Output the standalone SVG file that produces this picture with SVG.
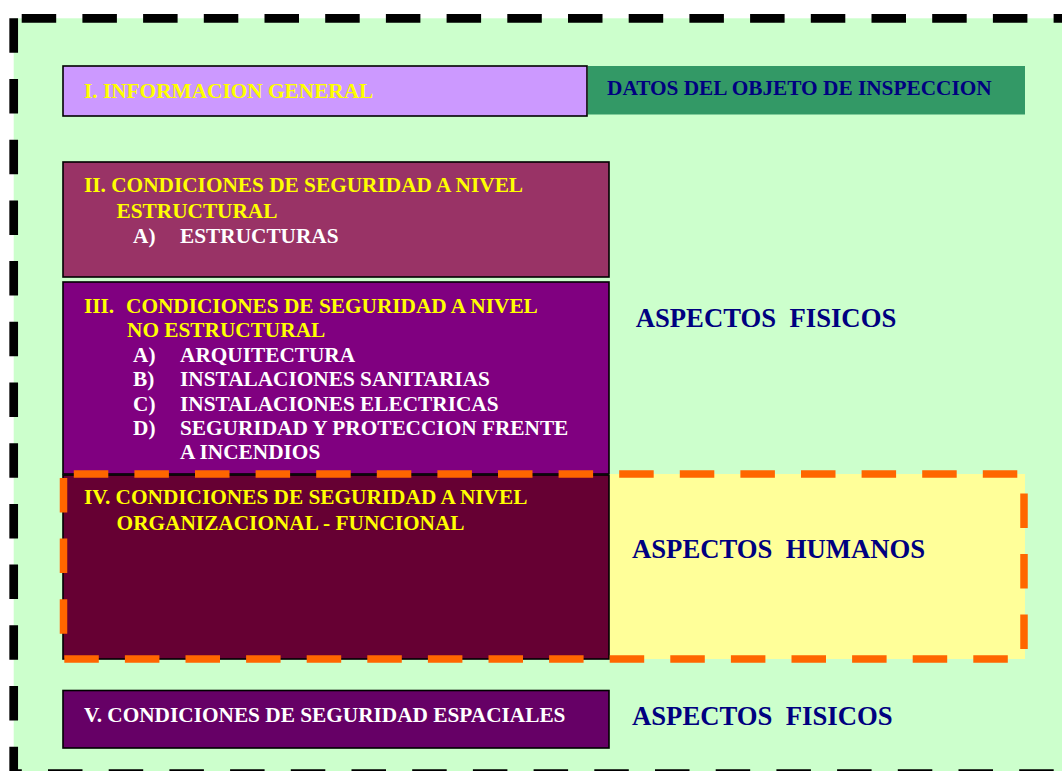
<svg xmlns="http://www.w3.org/2000/svg" width="1062" height="771" viewBox="0 0 1062 771">
<style>
text{font-family:"Liberation Serif","Times New Roman",serif;font-weight:bold;font-size:21.3px}
.y{fill:#FFFF00}
.w{fill:#FFFFFF}
.n{fill:#000080}
.big{font-size:26.7px}
.box{stroke:#000;stroke-width:1.6}
.frame{stroke:#000;stroke-width:8.7;stroke-dasharray:34.5 26.2;fill:none}
</style>
<rect x="0" y="0" width="1062" height="771" fill="#FFFFFF"/>
<g id="background">
<rect x="13.7" y="18.3" width="1060" height="760" fill="#CCFFCC"/>
<line class="frame" x1="13.7" y1="18.3" x2="13.7" y2="780"/>
<line class="frame" x1="13.7" y1="18.3" x2="1070" y2="18.3" stroke-dashoffset="52.7"/>
<line class="frame" x1="13.7" y1="773.7" x2="1070" y2="773.7" stroke-dashoffset="26.4"/>
</g>
<g id="node-info">
<rect class="box" x="63" y="66" width="524" height="50" fill="#CC99FF"/>
<text class="y" x="84" y="98">I. INFORMACION GENERAL</text>
</g>
<g id="node-datos">
<rect x="588" y="66" width="437" height="48.5" fill="#339966"/>
<text class="n" x="607" y="95">DATOS DEL OBJETO DE INSPECCION</text>
</g>
<g id="node-estructural">
<rect class="box" x="63" y="162" width="546" height="115" fill="#993366"/>
<text class="y" x="84" y="192">II. CONDICIONES DE SEGURIDAD A NIVEL</text>
<text class="y" x="116.5" y="217.5">ESTRUCTURAL</text>
<text class="w" x="133" y="242.5">A)</text>
<text class="w" x="180" y="242.5">ESTRUCTURAS</text>
</g>
<g id="node-noestructural">
<rect class="box" x="63" y="282" width="546" height="192" fill="#800080"/>
<text class="y" x="84" y="312.5">III.</text>
<text class="y" x="126" y="312.5">CONDICIONES DE SEGURIDAD A NIVEL</text>
<text class="y" x="127" y="337.3">NO ESTRUCTURAL</text>
<text class="w" x="133" y="361.7">A)</text>
<text class="w" x="180" y="361.7">ARQUITECTURA</text>
<text class="w" x="133" y="386.3">B)</text>
<text class="w" x="180" y="386.3">INSTALACIONES SANITARIAS</text>
<text class="w" x="133" y="410.5">C)</text>
<text class="w" x="180" y="410.5">INSTALACIONES ELECTRICAS</text>
<text class="w" x="133" y="435">D)</text>
<text class="w" x="180" y="435">SEGURIDAD Y PROTECCION FRENTE</text>
<text class="w" x="180" y="459.3">A INCENDIOS</text>
</g>
<g id="node-humanos">
<rect x="609" y="474" width="416" height="185" fill="#FFFF99"/>
<text class="n big" x="632" y="557.5">ASPECTOS&#160; HUMANOS</text>
</g>
<g id="node-organizacional">
<rect class="box" x="63" y="475" width="546" height="184" fill="#660033"/>
<text class="y" x="84" y="504.3">IV. CONDICIONES DE SEGURIDAD A NIVEL</text>
<text class="y" x="116.6" y="529.5">ORGANIZACIONAL - FUNCIONAL</text>
</g>
<g id="group-humanos-border">
<path d="M63.5,474 H1024 V659 H63.5 Z" fill="none" stroke="#FF6600" stroke-width="7.5" stroke-dasharray="34.5 26.1" stroke-dashoffset="50.3"/>
</g>
<g id="label-fisicos-1">
<text class="n big" x="635.7" y="326.5">ASPECTOS&#160; FISICOS</text>
</g>
<g id="node-espaciales">
<rect class="box" x="63" y="690.5" width="546" height="57.5" fill="#660066"/>
<text class="w" x="84" y="721.5">V. CONDICIONES DE SEGURIDAD ESPACIALES</text>
</g>
<g id="label-fisicos-2">
<text class="n big" x="632" y="725">ASPECTOS&#160; FISICOS</text>
</g>
<g id="connectors"></g>
</svg>
